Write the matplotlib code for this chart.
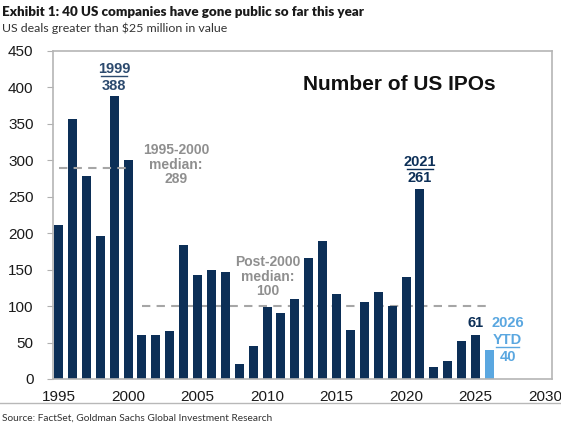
import numpy as np
import matplotlib.pyplot as plt

# US IPOs > $25mn
years = list(range(1995, 2027))
ipos = [211, 356, 278, 196, 388, 300, 61, 61, 66, 184, 142, 149, 147, 20, 45,
        99, 90, 110, 166, 189, 116, 67, 106, 120, 100, 140, 261, 17, 25, 52, 61, 40]
median_pre = 289
median_post = 100

navy = '#0c2f57'
light = '#5aa7e0'
grey = '#8f8f8f'

plt.rcParams['font.family'] = ['Liberation Sans', 'DejaVu Sans']

fig = plt.figure(figsize=(5.61, 4.28), dpi=100)
ax = fig.add_axes([0.0945, 0.1145, 0.8895, 0.7665])

colors = [navy] * (len(years) - 1) + [light]
ax.bar(years, ipos, width=0.65, color=colors, zorder=2)

# median lines
ax.plot([1995, 2000], [median_pre, median_pre], ls=(0, (4, 3)), color='#a6a6a6', lw=1.5, zorder=3)
ax.plot([2001, 2026], [median_post, median_post], ls=(0, (4, 3)), color='#a6a6a6', lw=1.5, zorder=1)

ax.set_xlim(1994.6, 2030.5)
ax.set_ylim(0, 450)
ax.set_xticks(range(1995, 2031, 5))
ax.set_yticks(range(0, 451, 50))
ax.tick_params(axis='x', length=0, labelsize=11, pad=8, colors='#1a1a1a')
ax.tick_params(axis='y', length=4, labelsize=11, color='#b0b0b0', labelcolor='#1a1a1a', pad=10)
for s in ax.spines.values():
    s.set_color('#b5b5b5')
    s.set_linewidth(1.2)


def underlined(x, y, s, color, half=0.95):
    ax.text(x, y, s, ha='center', va='baseline', fontsize=10.5, fontweight='bold', color=color)
    ax.plot([x - half, x + half], [y - 4, y - 4], color=color, lw=1)


# annotations
ax.text(1999, 397, '388', ha='center', va='baseline', fontsize=10.5, fontweight='bold', color='#2c4a6e')
underlined(1999, 420, '1999', '#2c4a6e')
ax.text(2021, 270, '261', ha='center', va='baseline', fontsize=10.5, fontweight='bold', color=navy)
underlined(2021, 292, '2021', navy)
ax.text(2025, 71, '61', ha='center', va='baseline', fontsize=10.5, fontweight='bold', color=navy)
ax.text(2027.3, 71, '2026', ha='center', va='baseline', fontsize=10.5, fontweight='bold', color=light)
underlined(2027.3, 48, 'YTD', light, half=0.8)
ax.text(2027.3, 25, '40', ha='center', va='baseline', fontsize=10.5, fontweight='bold', color=light)

ax.text(2003.45, 294, '1995-2000\nmedian:\n289', ha='center', va='center', fontsize=10,
        fontweight='bold', color=grey, linespacing=1.05)
ax.text(2010.05, 140, 'Post-2000\nmedian:\n100', ha='center', va='center', fontsize=10,
        fontweight='bold', color=grey, linespacing=1.05)
ax.text(2019.5, 404, 'Number of US IPOs', ha='center', va='center', fontsize=15,
        fontweight='bold', color='#111111')

fig.text(0.004, 0.985, 'Exhibit 1: 40 US companies have gone public so far this year',
         ha='left', va='top', fontsize=9.6, fontweight='heavy', family='Lato', color='#1a1a1a')
fig.text(0.004, 0.947, 'US deals greater than $25 million in value',
         ha='left', va='top', fontsize=8.9, family='Lato', color='#333333')
fig.add_artist(plt.Line2D([0, 1], [0.058, 0.058], color='#b8b8b8', lw=1))
fig.text(0.004, 0.013, 'Source: FactSet, Goldman Sachs Global Investment Research',
         ha='left', va='bottom', fontsize=7.3, family='Lato', color='#333333')

fig.savefig('out.png', dpi=100)
